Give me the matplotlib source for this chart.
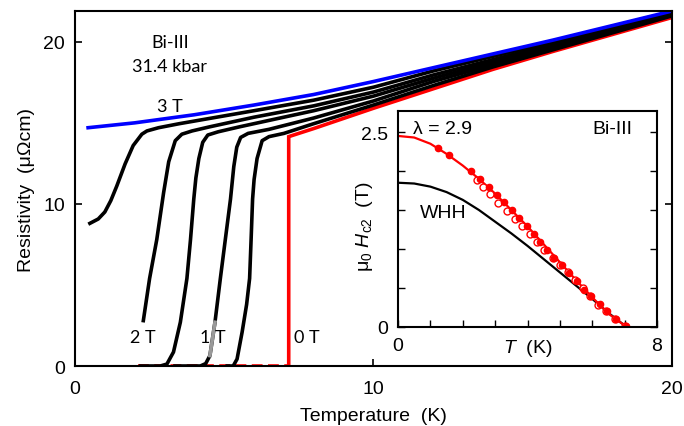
import matplotlib.pyplot as plt
import numpy as np

plt.rcParams['font.family'] = ['Liberation Sans', 'DejaVu Sans']
plt.rcParams['mathtext.fontset'] = 'custom'
plt.rcParams['mathtext.rm'] = 'Liberation Sans'
plt.rcParams['mathtext.it'] = 'Liberation Sans:italic'

# main panel: resistivity vs temperature for several fields
t_3T = [0.44, 2, 4, 6, 8, 10, 12, 14, 16, 18, 20]
r_3T = [14.7, 15.0, 15.5, 16.1, 16.75, 17.55, 18.4, 19.25, 20.1, 21.0, 21.9]

t_a = [0.5, 0.78, 1.0, 1.2, 1.4, 1.68, 1.95, 2.24, 2.41, 2.8, 3.5, 6, 8, 10, 12, 14, 16, 18, 20]
r_a = [8.8, 9.07, 9.5, 10.2, 11.1, 12.47, 13.6, 14.3, 14.5, 14.7, 14.95, 15.75, 16.4, 17.2, 18.2, 19.1, 20.0, 20.95, 21.85]

t_2T = [2.29, 2.5, 2.74, 2.97, 3.14, 3.36, 3.58, 3.92, 4.5, 6, 8, 10, 12, 14, 16, 18, 20]
r_2T = [2.8, 5.4, 7.8, 10.7, 12.6, 13.9, 14.3, 14.5, 14.75, 15.35, 16.05, 16.9, 17.95, 18.9, 19.85, 20.85, 21.8]

t_c = [2.2, 2.86, 3.08, 3.3, 3.53, 3.75, 3.87, 3.98, 4.05, 4.15, 4.28, 4.45, 4.8, 5.5, 8, 10, 12, 14, 16, 18, 20]
r_c = [0, 0, 0.12, 0.86, 2.7, 5.4, 7.8, 10.3, 11.6, 12.8, 13.8, 14.25, 14.45, 14.75, 15.75, 16.65, 17.75, 18.75, 19.75, 20.75, 21.75]

t_1T = [3.35, 4.2, 4.38, 4.52, 4.6, 4.69, 4.87, 5.05, 5.21, 5.32, 5.42, 5.55, 5.8, 6.5, 8, 10, 12, 14, 16, 18, 20]
r_1T = [0, 0, 0.15, 0.64, 1.6, 2.7, 5.4, 8.0, 10.3, 12.3, 13.5, 14.1, 14.35, 14.6, 15.3, 16.35, 17.55, 18.6, 19.65, 20.65, 21.7]

t_e = [5.1, 5.3, 5.43, 5.6, 5.75, 5.85, 5.9, 5.95, 6.0, 6.1, 6.27, 6.5, 7, 8, 10, 12, 14, 16, 18, 20]
r_e = [0, 0, 0.43, 2.1, 3.8, 5.4, 7.8, 10.3, 11.5, 12.8, 13.9, 14.15, 14.35, 14.95, 16.1, 17.3, 18.45, 19.5, 20.55, 21.6]

t_0T = [2.1, 7.16, 7.16, 8, 10, 12, 14, 16, 18, 20]
r_0T = [0, 0, 14.15, 14.65, 15.9, 17.1, 18.3, 19.4, 20.45, 21.5]

# inset: upper critical field
t_fit = [0, 0.5, 1, 1.5, 2, 2.5, 3, 3.5, 4, 4.5, 5, 5.5, 6, 6.5, 7.06]
h_fit = [2.45, 2.43, 2.35, 2.22, 2.07, 1.90, 1.71, 1.50, 1.29, 1.06, 0.83, 0.60, 0.38, 0.17, 0]
t_whh = [0, 0.5, 1, 1.5, 2, 2.5, 3, 3.5, 4, 4.5, 5, 5.5, 6, 6.5, 7.06]
h_whh = [1.85, 1.84, 1.80, 1.73, 1.63, 1.50, 1.35, 1.20, 1.04, 0.87, 0.70, 0.53, 0.36, 0.18, 0]

t_full = [1.22, 1.58, 2.25, 2.52, 2.81, 3.05, 3.27, 3.51, 3.75, 3.98, 4.2, 4.4, 4.6, 4.82,
          5.06, 5.29, 5.52, 5.74, 5.96, 6.23, 6.46, 6.73, 7.04]
h_full = [2.30, 2.20, 2.00, 1.90, 1.79, 1.69, 1.60, 1.50, 1.40, 1.30, 1.19, 1.09, 0.99, 0.89,
          0.80, 0.69, 0.59, 0.48, 0.40, 0.30, 0.21, 0.10, 0.01]
t_open = [2.43, 2.62, 2.84, 3.1, 3.37, 3.6, 3.83, 4.07, 4.28, 4.5, 4.79, 5.0, 5.24, 5.46,
          5.7, 5.93, 6.18, 6.42, 6.7, 7.0]
h_open = [1.89, 1.79, 1.70, 1.59, 1.49, 1.39, 1.30, 1.19, 1.09, 0.99, 0.89, 0.80, 0.70, 0.60,
          0.50, 0.40, 0.28, 0.20, 0.10, 0.01]

fig = plt.figure(figsize=(6.84, 4.27), dpi=100)
ax = fig.add_axes([0.1096, 0.1405, 0.8729, 0.8314])

lw = 2.6
# 0 T: zero-resistance part looks dashed in the original
ax.plot(t_0T[:2], r_0T[:2], color='#ff0000', lw=lw, dashes=(3, 1.5))
ax.plot(t_0T[1:], r_0T[1:], color='#ff0000', lw=lw, solid_joinstyle='miter')
for t, r in [(t_a, r_a), (t_2T, r_2T), (t_c, r_c), (t_1T, r_1T), (t_e, r_e)]:
    ax.plot(t, r, color='black', lw=lw)
ax.plot(t_1T[3:6], r_1T[3:6], color='#999999', lw=lw)
ax.plot(t_3T, r_3T, color='#0000ff', lw=lw)

fs = 14
ax.set_xlim(0, 20)
ax.set_ylim(0, 21.9)
ax.set_xticks([0, 10, 20])
ax.set_yticks([0, 10, 20])
ax.tick_params(direction='in', length=5, width=1.2, labelsize=fs, pad=7,
               right=True)
ax.tick_params(axis='x', pad=10)
for s in ax.spines.values():
    s.set_linewidth(1.5)
ax.set_xlabel('Temperature  (K)', fontsize=fs, labelpad=7)
ax.set_ylabel('Resistivity  (\u03bc\u03a9cm)', fontsize=fs, labelpad=6)

lato = ['Lato', 'DejaVu Sans']
afs = 13
ax.text(3.18, 20.0, 'Bi-III', ha='center', va='center', fontsize=afs, family=lato)
ax.text(3.18, 18.5, '31.4 kbar', ha='center', va='center', fontsize=afs, family=lato)
ax.text(3.18, 16.05, '3 T', ha='center', va='center', fontsize=afs, family=lato)
ax.text(2.28, 1.8, '2 T', ha='center', va='center', fontsize=afs, family=lato)
ax.text(4.62, 1.8, '1 T', ha='center', va='center', fontsize=afs, family=lato)
ax.text(7.77, 1.8, '0 T', ha='center', va='center', fontsize=afs, family=lato)

# inset
ins = fig.add_axes([0.5819, 0.2319, 0.3787, 0.5058])
ins.set_facecolor('white')
ins.plot(t_whh, h_whh, color='black', lw=1.6)
ins.plot(t_fit, h_fit, color='#ff0000', lw=1.6)
ins.plot(t_open, h_open, 'o', ms=5, mfc='white', mec='#ff0000', mew=1.0)
ins.plot(t_full, h_full, 'o', ms=4.5, color='#ff0000')
ins.set_xlim(0, 8)
ins.set_ylim(0, 2.77)
ins.set_xticks(np.arange(0, 9, 1))
ins.set_xticklabels(['0', '', '', '', '', '', '', '', '8'])
ins.set_yticks(np.arange(0, 3.0, 0.5))
ins.set_yticklabels(['0', '', '', '', '', '2.5'])
ins.tick_params(direction='in', length=5, width=1.0, labelsize=fs, right=True, pad=7)
for s in ins.spines.values():
    s.set_linewidth(1.5)
ins.text(0.5, -0.093, r'$T$  (K)', transform=ins.transAxes, ha='center', va='center', fontsize=fs)
ins.text(-0.13, 0.47, '\u03bc$_0$ $H_{\\rm c2}$  (T)', transform=ins.transAxes,
         rotation=90, ha='center', va='center', fontsize=fs)
ins.text(0.46, 2.54, '\u03bb = 2.9', ha='left', va='center', fontsize=fs)
ins.text(7.25, 2.54, 'Bi-III', ha='right', va='center', fontsize=fs)
ins.text(0.68, 1.47, 'WHH', ha='left', va='center', fontsize=fs)

fig.savefig('out.png', dpi=100)
